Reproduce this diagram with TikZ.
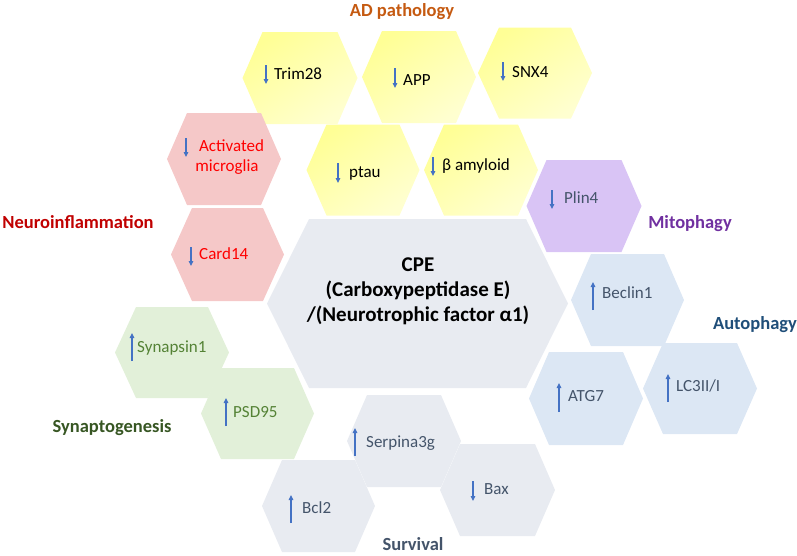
\documentclass[tikz,border=0pt]{standalone}
\usepackage{fontspec}
\setmainfont{Carlito}
\usetikzlibrary{arrows.meta}
\definecolor{hyA}{RGB}{255,255,150}
\definecolor{hyB}{RGB}{255,255,208}
\definecolor{hpink}{RGB}{245,200,200}
\definecolor{hpurple}{RGB}{217,196,245}
\definecolor{hblue}{RGB}{220,231,244}
\definecolor{hgray}{RGB}{232,235,241}
\definecolor{hgreen}{RGB}{226,240,217}
\definecolor{tOrange}{RGB}{197,90,17}
\definecolor{tDarkRed}{RGB}{192,0,0}
\definecolor{tPurple}{RGB}{112,48,160}
\definecolor{tNavy}{RGB}{31,78,121}
\definecolor{tDkGreen}{RGB}{55,86,35}
\definecolor{tSlate}{RGB}{68,84,106}
\definecolor{tGreen}{RGB}{84,130,53}
\definecolor{tRed}{RGB}{255,0,0}
\definecolor{arrblue}{RGB}{68,114,196}
\newcommand\hexcell[6]{%
  \path[#6] ({#1-#3/2},{#2}) -- ({#1-#3/2+#5},{#2-#4/2}) -- ({#1+#3/2-#5},{#2-#4/2})
    -- ({#1+#3/2},{#2}) -- ({#1+#3/2-#5},{#2+#4/2}) -- ({#1-#3/2+#5},{#2+#4/2}) -- cycle;}
\tikzset{
  yellowcell/.style={top color=hyA, bottom color=hyB, shading angle=35},
  pinkcell/.style={fill=hpink},
  purplecell/.style={fill=hpurple},
  bluecell/.style={fill=hblue},
  graycell/.style={fill=hgray},
  greencell/.style={fill=hgreen},
  item/.style={anchor=base west, inner sep=0pt, font=\fontsize{17}{20}\selectfont},
  grouplabel/.style={anchor=center, inner sep=0pt, font=\fontsize{18.5}{22}\selectfont\bfseries},
  downarr/.style={draw=arrblue, line width=1.1pt, -{Triangle[length=5pt,width=4.5pt]}},
  uparr/.style={draw=arrblue, line width=1.1pt, -{Triangle[length=5pt,width=4.5pt]}}
}
\begin{document}
\begin{tikzpicture}[x=1pt,y=-1pt]
\useasboundingbox (0,0) rectangle (797,555);
% hexagons
\hexcell{300}{78}{115}{92}{20}{yellowcell}
\hexcell{419}{77}{114}{92}{20}{yellowcell}
\hexcell{535}{73}{114}{91}{21}{yellowcell}
\hexcell{224}{159}{114}{92}{20}{pinkcell}
\hexcell{363}{170}{113}{91}{20}{yellowcell}
\hexcell{481}{170}{114}{91}{20}{yellowcell}
\hexcell{584}{206}{115}{92}{20}{purplecell}
\hexcell{417.5}{303.5}{301}{169}{42}{graycell}
\hexcell{227.5}{254.5}{113}{93}{21}{pinkcell}
\hexcell{627.5}{300}{113}{92}{20}{bluecell}
\hexcell{586}{398.5}{114}{93}{20}{bluecell}
\hexcell{700}{388.5}{114}{91}{20}{bluecell}
\hexcell{172}{352.5}{114}{91}{21}{greencell}
\hexcell{257.5}{413.5}{113}{91}{20}{greencell}
\hexcell{404}{441}{114}{92}{20}{graycell}
\hexcell{318.5}{506}{113}{92}{20}{graycell}
\hexcell{497.5}{490}{115}{92}{20}{graycell}
% group labels
\node[grouplabel, text=tOrange] (lAD) at (402,12) {AD pathology};
\node[grouplabel, text=tDarkRed] (lNeu) at (78,222) {Neuroinflammation};
\node[grouplabel, text=tPurple] (lMito) at (690,224) {Mitophagy};
\node[grouplabel, text=tNavy] (lAuto) at (755,325) {Autophagy};
\node[grouplabel, text=tDkGreen] (lSyn) at (112,428) {Synaptogenesis};
\node[grouplabel, text=tSlate] (lSurv) at (413,544) {Survival};
% centre
\node[anchor=center, align=center, inner sep=0pt, font=\fontsize{21}{25}\selectfont\bfseries] (cpe) at (418,291)
  {CPE\\(Carboxypeptidase E)\hspace*{37pt}\\/(Neurotrophic factor α1)};
% items
\node[item] (trim) at (274,79) {Trim28};
\draw[downarr] (266,65) -- (266,84);
\node[item] (app) at (403,85) {APP};
\draw[downarr] (395,68) -- (395,88);
\node[item] (snx) at (512,77) {SNX4};
\draw[downarr] (503,62) -- (503,81);
\node[anchor=center, align=center, inner sep=0pt, text=tRed, font=\fontsize{17}{20}\selectfont] (micro) at (227,157) {\hspace*{9pt}Activated\\microglia};
\draw[downarr] (186,138) -- (186,157);
\node[item] (ptau) at (349,177) {ptau};
\draw[downarr] (338,163) -- (338,183);
\node[item] (abeta) at (442,170) {β amyloid};
\draw[downarr] (433,157) -- (433,176);
\node[item, text=tSlate] (plin) at (564,203) {Plin4};
\draw[downarr] (552,190) -- (552,209);
\node[item, text=tRed] (card) at (199,259) {Card14};
\draw[downarr] (191,247) -- (191,266);
\node[item, text=tSlate] (beclin) at (602,298) {Beclin1};
\draw[uparr] (593,310) -- (593,282);
\node[item, text=tSlate] (atg) at (568,401) {ATG7};
\draw[uparr] (559,412) -- (559,383);
\node[item, text=tSlate] (lc3) at (676,391) {LC3II/I};
\draw[uparr] (668,402) -- (668,374);
\node[item, text=tGreen] (synapsin) at (137,352) {Synapsin1};
\draw[uparr] (132,361) -- (132,333);
\node[item, text=tGreen] (psd) at (233,417) {PSD95};
\draw[uparr] (226,426) -- (226,398);
\node[item, text=tSlate] (serp) at (366,447) {Serpina3g};
\draw[uparr] (355,456) -- (355,428);
\node[item, text=tSlate] (bcl) at (302,513) {Bcl2};
\draw[uparr] (291,523) -- (291,495);
\node[item, text=tSlate] (bax) at (484,494) {Bax};
\draw[downarr] (473,481) -- (473,501);
\end{tikzpicture}
\end{document}
